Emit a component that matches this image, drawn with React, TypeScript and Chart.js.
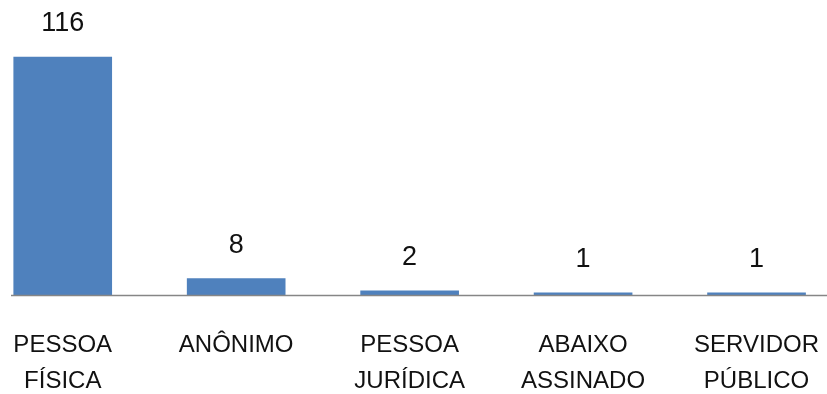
import React, { useEffect, useRef } from "react";
import { Chart, registerables } from "chart.js";

Chart.register(...registerables);

const categories: string[][] = [
  ["PESSOA", "FÍSICA"],
  ["ANÔNIMO"],
  ["PESSOA", "JURÍDICA"],
  ["ABAIXO", "ASSINADO"],
  ["SERVIDOR", "PÚBLICO"],
];
const values: number[] = [116, 8, 2, 1, 1];

const FONT = "'Liberation Sans', Arial, sans-serif";
const BAR_COLOR = "#4F81BD";
const SHIFT = 24; // canvas is shifted left so the cropped look of the original is kept
const CANVAS_W = 875;

const valueLabels = {
  id: "valueLabels",
  afterDatasetsDraw(chart: any) {
    const ctx = chart.ctx;
    const meta = chart.getDatasetMeta(0);
    ctx.save();
    ctx.font = `27px ${FONT}`;
    ctx.fillStyle = "#111";
    ctx.textAlign = "center";
    ctx.textBaseline = "middle";
    meta.data.forEach((bar: any, i: number) => {
      ctx.fillText(String(values[i]), bar.x, bar.y - 33);
    });
    ctx.restore();
  },
};

const axisLine = {
  id: "axisLine",
  afterDatasetsDraw(chart: any) {
    const ctx = chart.ctx;
    const y = chart.scales.y.getPixelForValue(0);
    ctx.save();
    ctx.strokeStyle = "#868686";
    ctx.lineWidth = 1.5;
    ctx.beginPath();
    ctx.moveTo(11 + SHIFT, y + 0.5);
    ctx.lineTo(chart.width, y + 0.5);
    ctx.stroke();
    ctx.restore();
  },
};

export default function App() {
  const ref = useRef<HTMLCanvasElement>(null);
  useEffect(() => {
    if (!ref.current) return;
    const chart = new Chart(ref.current, {
      type: "bar",
      data: {
        labels: categories,
        datasets: [
          {
            data: values,
            backgroundColor: BAR_COLOR,
            barThickness: 98,
          },
        ],
      },
      options: {
        animation: false,
        responsive: false,
        maintainAspectRatio: false,
        layout: { padding: 0 },
        plugins: { legend: { display: false }, tooltip: { enabled: false } },
        scales: {
          x: {
            offset: true,
            grid: { display: false, drawTicks: false },
            border: { display: false },
            afterFit: (scale: any) => {
              scale.height = 99;
            },
            ticks: {
              padding: 32,
              maxRotation: 0,
              autoSkip: false,
              color: "#111",
              font: { family: FONT, size: 24, lineHeight: 1.5 },
            },
          },
          y: {
            display: false,
            min: 0,
            max: 143.8,
          },
        },
      },
      plugins: [valueLabels, axisLine],
    });
    return () => chart.destroy();
  }, []);
  return (
    <div style={{ position: "fixed", left: 0, top: 0, width: 827, height: 394, overflow: "hidden", background: "#fff" }}>
      <canvas
        ref={ref}
        width={CANVAS_W}
        height={394}
        style={{ position: "absolute", left: -SHIFT, top: 0, width: CANVAS_W, height: 394 }}
      />
    </div>
  );
}
